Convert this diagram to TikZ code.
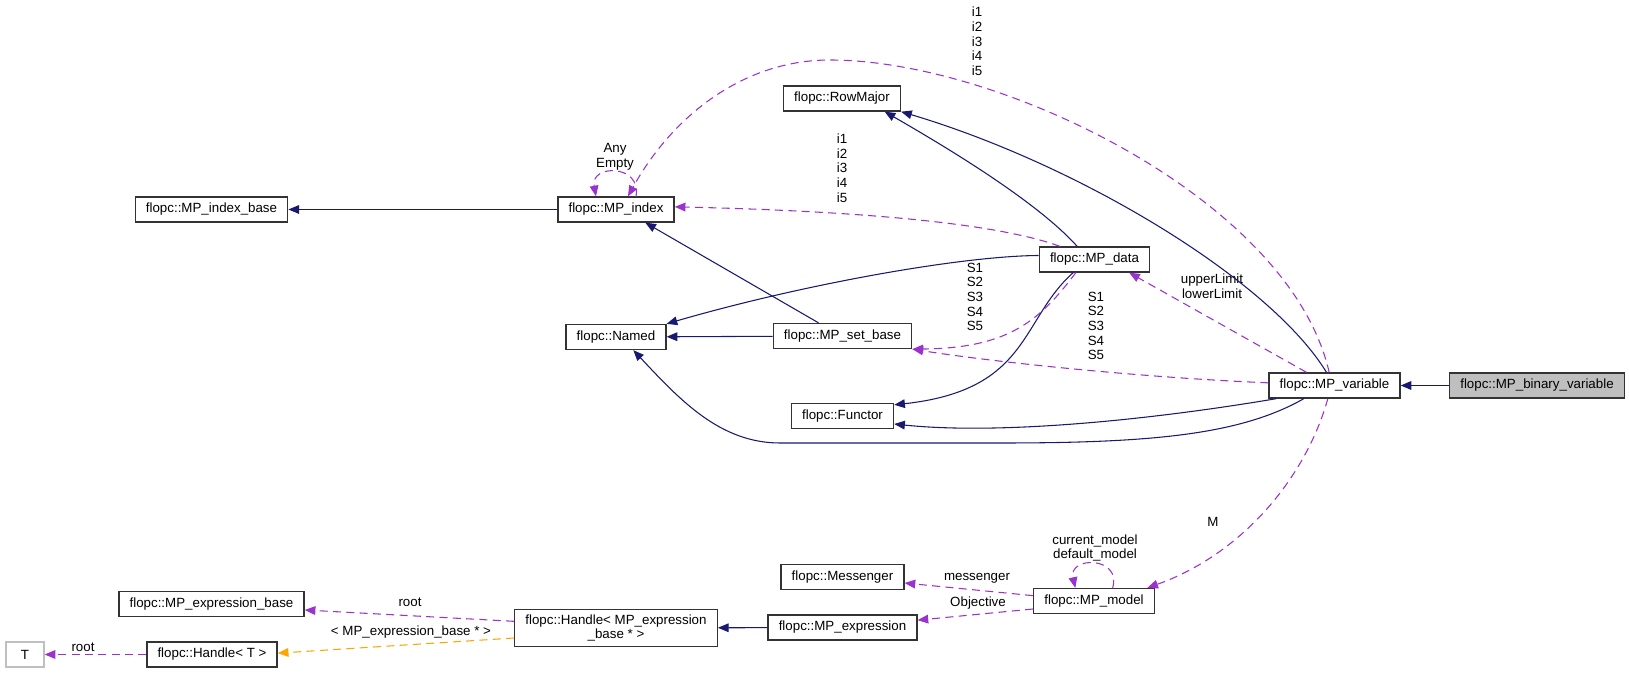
\documentclass[tikz,border=0pt]{standalone}
\usepackage{fontspec}
\setmainfont{Liberation Sans}
\usetikzlibrary{arrows.meta}
\definecolor{midnightblue}{HTML}{191970}
\definecolor{darkorchid}{HTML}{9A32CD}
\definecolor{graphorange}{HTML}{FFA500}
\definecolor{nodegrey}{HTML}{BFBFBF}

\begin{document}
\begin{tikzpicture}[x=0.75pt,y=-0.75pt]
			\tikzstyle{ClassStyle}   = [shape=rectangle, draw=black!80, line width=1pt, fill=white, inner xsep=8pt, inner ysep=4pt, minimum height=18.75pt, align=center, font=\fontsize{10pt}{11pt}\selectfont]
			\tikzstyle{LabelStyle}   = [inner sep=0pt, align=center, font=\fontsize{10pt}{11pt}\selectfont]
			\tikzstyle{InheritStyle} = [midnightblue, line width=0.8pt, -{Triangle[length=8pt,width=6.5pt]}]
			\tikzstyle{UsageStyle}   = [darkorchid, line width=0.8pt, dash pattern=on 6pt off 4pt, -{Triangle[length=8pt,width=6.5pt]}]

			\useasboundingbox (0,0) rectangle (1629,673);

			\node[ClassStyle, fill=nodegrey] (MP binary variable) at (1537,385.5) {flopc::MP\_binary\_variable};
			\node[ClassStyle] (MP variable) at (1334.5,385.5) {flopc::MP\_variable};
			\node[ClassStyle] (MP data) at (1094.5,259.5) {flopc::MP\_data};
			\node[ClassStyle] (RowMajor) at (842,98.5) {flopc::RowMajor};
			\node[ClassStyle] (MP index) at (616,209.5) {flopc::MP\_index};
			\node[ClassStyle] (MP index base) at (211.5,209.5) {flopc::MP\_index\_base};
			\node[ClassStyle] (Named) at (616,337) {flopc::Named};
			\node[ClassStyle] (MP set base) at (842.5,336) {flopc::MP\_set\_base};
			\node[ClassStyle] (Functor) at (842.5,416) {flopc::Functor};
			\node[ClassStyle] (MP model) at (1094,601) {flopc::MP\_model};
			\node[ClassStyle] (Messenger) at (842.5,577) {flopc::Messenger};
			\node[ClassStyle] (MP expression) at (842.5,627.5) {flopc::MP\_expression};
			\node[ClassStyle] (Handle expression) at (616,628) {flopc::Handle< MP\_expression\\\_base * >};
			\node[ClassStyle] (MP expression base) at (211.5,604) {flopc::MP\_expression\_base};
			\node[ClassStyle] (Handle T) at (212,654.5) {flopc::Handle< T >};
			\node[ClassStyle, draw=nodegrey, minimum width=28.5pt] (T) at (25,654.5) {T};

			\node[LabelStyle] (i top) at (977,41.5) {i1\\i2\\i3\\i4\\i5};
			\node[LabelStyle] (i mid) at (842,168) {i1\\i2\\i3\\i4\\i5};
			\node[LabelStyle] (any empty) at (615,156.5) {Any\\Empty};
			\node[LabelStyle] (S data) at (975,297) {S1\\S2\\S3\\S4\\S5};
			\node[LabelStyle] (S variable) at (1096,326) {S1\\S2\\S3\\S4\\S5};
			\node[LabelStyle] (limits) at (1212,286.5) {upperLimit\\lowerLimit};
			\node[LabelStyle] (M) at (1213,522) {M};
			\node[LabelStyle] (models) at (1095,548) {current\_model\\default\_model};
			\node[LabelStyle] (messenger) at (977,578) {messenger};
			\node[LabelStyle] (Objective) at (978,603) {Objective};
			\node[LabelStyle] (root expr) at (410,602) {root};
			\node[LabelStyle] (template) at (411,632) {< MP\_expression\_base * >};
			\node[LabelStyle] (root T) at (83,647) {root};

			\draw[InheritStyle] (MP binary variable) -- (MP variable);
			\draw[InheritStyle] ([xshift=-6pt]MP variable.north) .. controls (1270,280) and (1080,165) .. (RowMajor.south east);
			\draw[InheritStyle] ([xshift=-13pt]MP data.north) .. controls (1040,205) and (960,155) .. ([xshift=32pt]RowMajor.south);
			\draw[InheritStyle] ([yshift=3pt]MP data.west) .. controls (960,256) and (800,285) .. (Named.north east);
			\draw[InheritStyle] (MP set base) -- (Named);
			\draw[InheritStyle] ([xshift=-18pt]MP set base.north) -- ([xshift=22pt]MP index.south);
			\draw[InheritStyle] (MP index) -- (MP index base);
			\draw[InheritStyle] ([xshift=-16pt]MP data.south) .. controls (1020,320) and (1030,390) .. ([yshift=-1.5pt]Functor.north east);
			\draw[InheritStyle] ([xshift=6pt]MP variable.south west) .. controls (1150,420) and (1000,435) .. ([yshift=-6pt]Functor.east);
			\draw[InheritStyle] ([xshift=-23pt]MP variable.south) .. controls (1240,435) and (1150,443) .. (1000,443) -- (780,443) .. controls (720,443) and (680,400) .. ([xshift=13pt]Named.south);
			\draw[InheritStyle] (MP expression) -- (Handle expression);

			\draw[UsageStyle] ([xshift=-4pt]MP variable.north) .. controls (1290,200) and (1000,60) .. (830,60) .. controls (740,60) and (670,120) .. ([xshift=9pt]MP index.north);
			\draw[UsageStyle] ([xshift=15pt]MP index.north) .. controls (642,164) and (590,164) .. ([xshift=-15pt]MP index.north);
			\draw[UsageStyle] ([xshift=-26pt]MP data.north) .. controls (1010,228) and (900,212) .. ([yshift=2pt]MP index.east);
			\draw[UsageStyle] ([xshift=-14pt]MP data.south) .. controls (1040,320) and (1010,348) .. (MP set base.south east);
			\draw[UsageStyle] ([yshift=2pt]MP variable.west) .. controls (1150,378) and (1000,363) .. (MP set base.south east);
			\draw[UsageStyle] ([xshift=-21pt]MP variable.north) -- ([xshift=26pt]MP data.south);
			\draw[UsageStyle] ([xshift=-5pt]MP variable.south) .. controls (1305,480) and (1240,555) .. ([xshift=40pt]MP model.north);
			\draw[UsageStyle] ([xshift=14pt]MP model.north) .. controls (1122,556) and (1068,556) .. ([xshift=-14pt]MP model.north);
			\draw[UsageStyle] ([yshift=4pt]MP model.west) -- ([yshift=-4.5pt]Messenger.east);
			\draw[UsageStyle] ([yshift=-6pt]MP model.west) -- ([yshift=5.5pt]MP expression.east);
			\draw[UsageStyle] ([yshift=5pt]Handle expression.west) -- ([yshift=-4.5pt]MP expression base.east);
			\draw[UsageStyle, graphorange] ([yshift=-7.5pt]Handle expression.west) -- ([yshift=1pt]Handle T.east);
			\draw[UsageStyle] (Handle T) -- (T);
		\end{tikzpicture}
\end{document}
